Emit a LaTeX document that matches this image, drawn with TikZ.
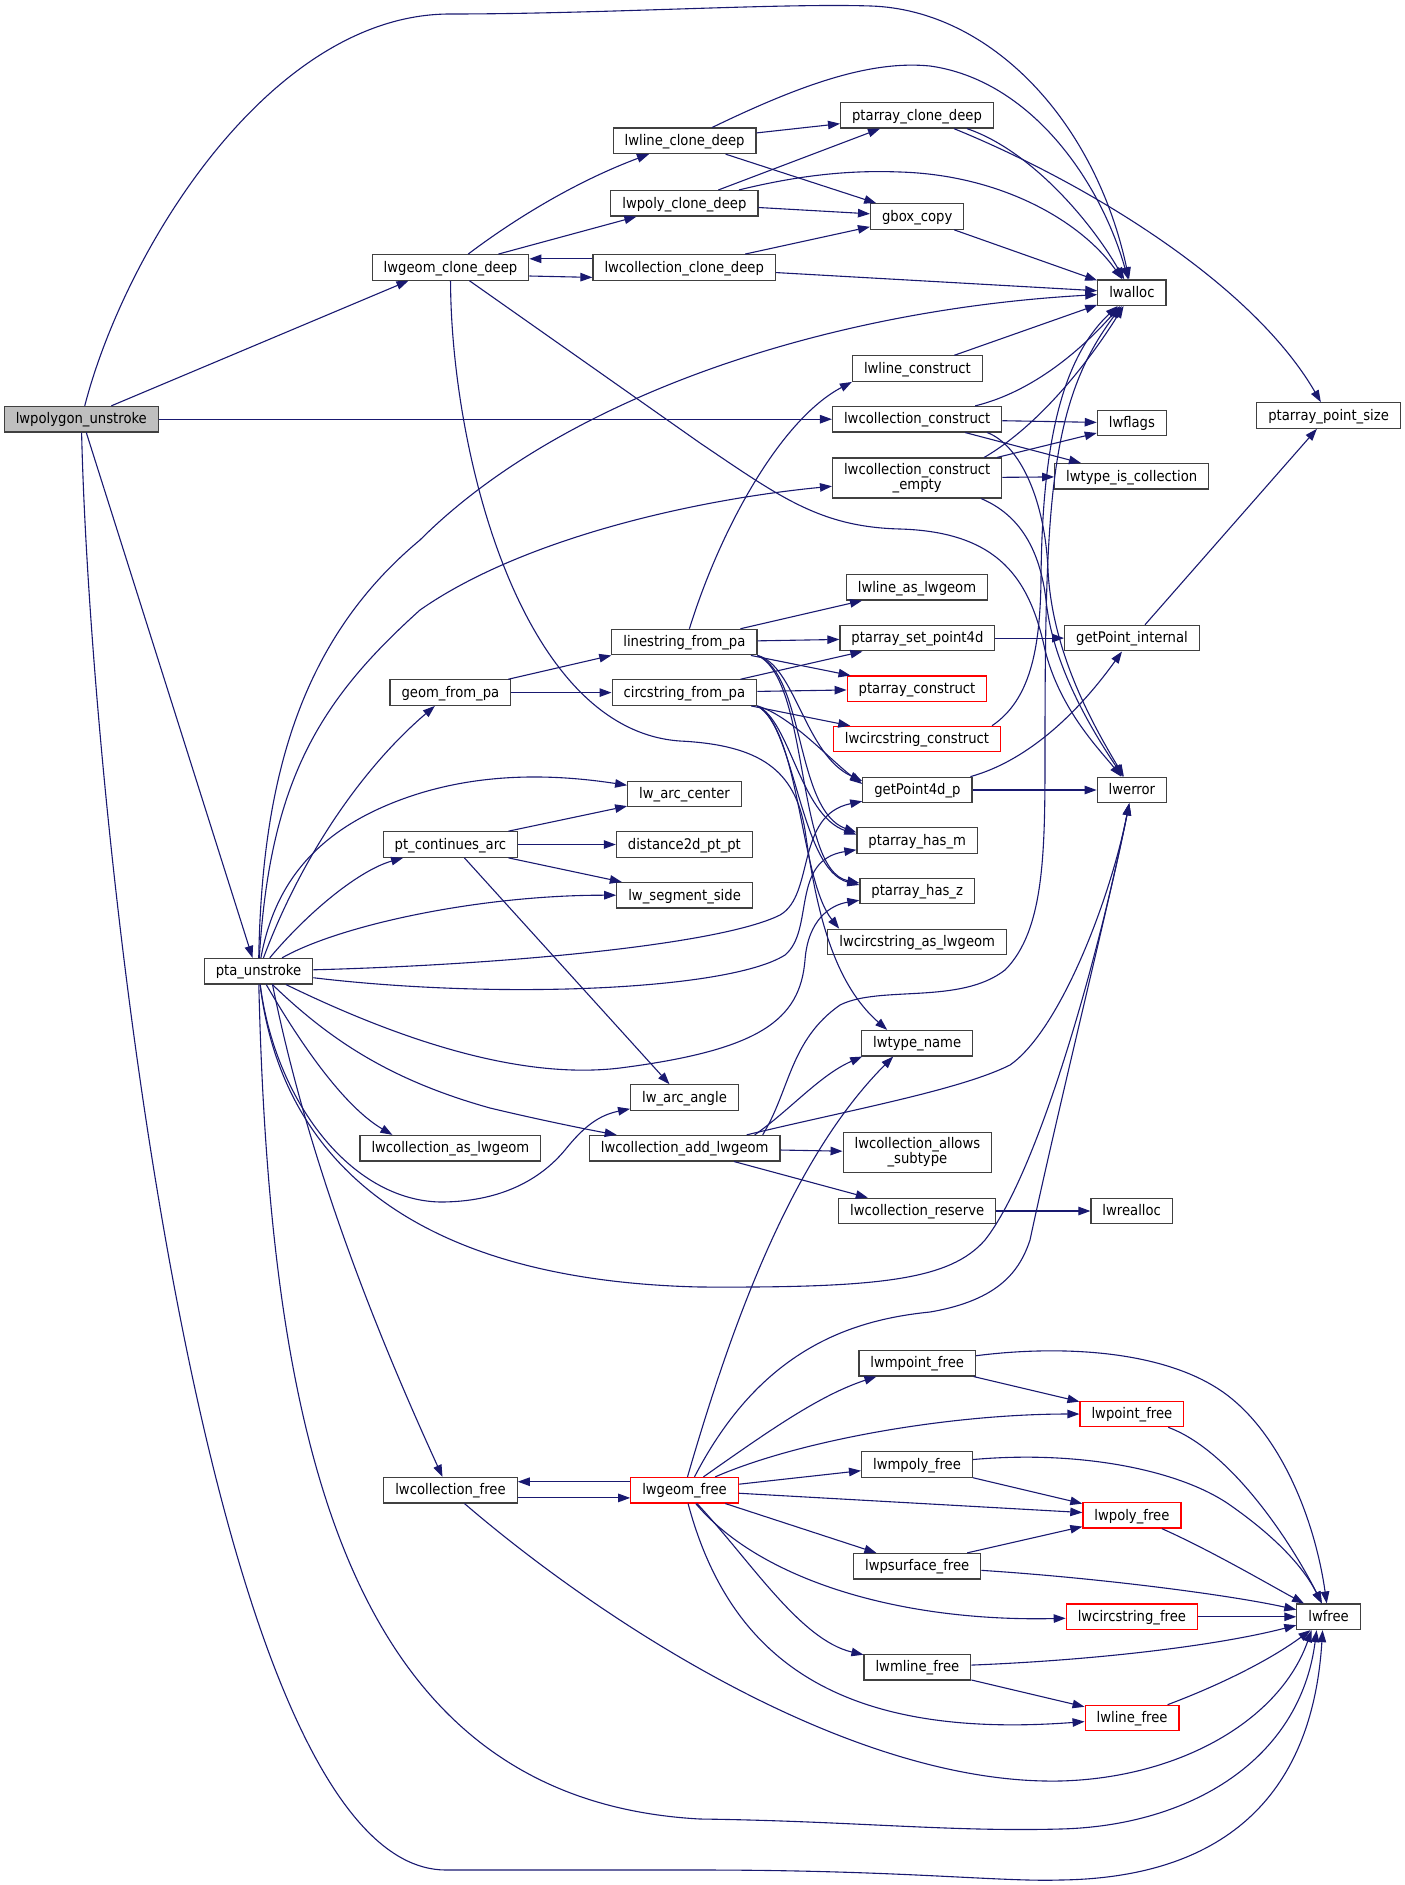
\documentclass[tikz,border=0pt]{standalone}
\usepackage{fontspec}
\setmainfont{DejaVu Sans}[FakeStretch=0.9]
\usepackage{tikz}
\usetikzlibrary{arrows.meta, calc}
\definecolor{callblue}{HTML}{191970}
\definecolor{boxred}{HTML}{FF0000}
\definecolor{rootgray}{HTML}{BFBFBF}

\begin{document}
\begin{tikzpicture}[x=1pt, y=-1pt,
    fn/.style={draw=black!75, line width=1.2pt, rectangle, minimum height=25.5pt,
      inner xsep=11.5pt, inner ysep=0pt, font=\fontsize{14.66}{15}\selectfont,
      text height=12pt, text depth=2.6pt},
    fnred/.style={fn, draw=boxred},
    fnroot/.style={fn, fill=rootgray},
    fntwo/.style={fn, minimum height=40pt, align=center, text height=27pt, text depth=5pt},
    call/.style={draw=callblue, line width=1.1pt, -{Triangle[length=12pt, width=8.5pt]}}]
    \useasboundingbox (0,0) rectangle (1405,1885);

    % functions
    \node[fnroot] (unstroke) at (81.3,419.2) {lwpolygon\_unstroke};
    \node[fn] (ptaun) at (258.5,971.2) {pta\_unstroke};
    \node[fn] (gclone) at (450.5,267.4) {lwgeom\_clone\_deep};
    \node[fn] (gfrom) at (450.4,692.6) {geom\_from\_pa};
    \node[fn] (contarc) at (450.4,844.5) {pt\_continues\_arc};
    \node[fn] (casgeom) at (450.4,1148.2) {lwcollection\_as\_lwgeom};
    \node[fn] (cfree) at (450.5,1490.2) {lwcollection\_free};
    \node[fn] (lclone) at (684.6,140.8) {lwline\_clone\_deep};
    \node[fn] (pclone) at (684.4,203.3) {lwpoly\_clone\_deep};
    \node[fn] (cclone) at (684.2,267.4) {lwcollection\_clone\_deep};
    \node[fn] (lsfrom) at (684.4,642.1) {linestring\_from\_pa};
    \node[fn] (csfrom) at (684.4,692.6) {circstring\_from\_pa};
    \node[fn] (arccenter) at (684.5,794) {lw\_arc\_center};
    \node[fn] (dist) at (684.4,844.5) {distance2d\_pt\_pt};
    \node[fn] (segside) at (684.6,895.3) {lw\_segment\_side};
    \node[fn] (arcangle) at (684.5,1097.6) {lw\_arc\_angle};
    \node[fn] (caddgeom) at (684.7,1148.2) {lwcollection\_add\_lwgeom};
    \node[fnred] (gfree) at (684.5,1490.2) {lwgeom\_free};
    \node[fn] (paclone) at (917,115.3) {ptarray\_clone\_deep};
    \node[fn] (gbox) at (917.2,216.5) {gbox\_copy};
    \node[fn] (lconstr) at (917.4,368.6) {lwline\_construct};
    \node[fn] (cconstr) at (917.2,419.2) {lwcollection\_construct};
    \node[fntwo] (cempty) at (917.2,478) {lwcollection\_construct\\\_empty};
    \node[fn] (lasgeom) at (917,587.3) {lwline\_as\_lwgeom};
    \node[fn] (setpt) at (917.4,638.1) {ptarray\_set\_point4d};
    \node[fnred] (paconstr) at (917,688.8) {ptarray\_construct};
    \node[fnred] (csconstr) at (917,739.1) {lwcircstring\_construct};
    \node[fn] (getpt) at (917.4,790) {getPoint4d\_p};
    \node[fn] (hasm) at (917.2,840.5) {ptarray\_has\_m};
    \node[fn] (hasz) at (917.2,891) {ptarray\_has\_z};
    \node[fn] (csasgeom) at (917.2,942) {lwcircstring\_as\_lwgeom};
    \node[fn] (typename) at (917.2,1043.2) {lwtype\_name};
    \node[fntwo] (allows) at (917.4,1152.6) {lwcollection\_allows\\\_subtype};
    \node[fn] (reserve) at (917.2,1211) {lwcollection\_reserve};
    \node[fn] (mpointfree) at (917.2,1363.2) {lwmpoint\_free};
    \node[fn] (mpolyfree) at (917,1464.5) {lwmpoly\_free};
    \node[fn] (psurffree) at (917.2,1566.2) {lwpsurface\_free};
    \node[fn] (mlinefree) at (917.4,1667.2) {lwmline\_free};
    \node[fn] (alloc) at (1131.9,292.7) {lwalloc};
    \node[fn] (flags) at (1131.9,423) {lwflags};
    \node[fn] (iscoll) at (1131.7,476.3) {lwtype\_is\_collection};
    \node[fn] (ptint) at (1132,638.1) {getPoint\_internal};
    \node[fn] (error) at (1131.9,790) {lwerror};
    \node[fn] (realloc) at (1131.7,1211) {lwrealloc};
    \node[fnred] (pointfree) at (1131.9,1414) {lwpoint\_free};
    \node[fnred] (polyfree) at (1131.9,1515.3) {lwpoly\_free};
    \node[fnred] (csfree) at (1131.9,1616.8) {lwcircstring\_free};
    \node[fnred] (linefree) at (1132.1,1718) {lwline\_free};
    \node[fn] (psize) at (1328.6,415.5) {ptarray\_point\_size};
    \node[fn] (free) at (1328.6,1616.8) {lwfree};

    % lwpolygon_unstroke
    \draw[call] (unstroke) .. controls (125,250) and (270,14) .. (450,14) .. controls (600,14) and (780,3) .. (871,6) .. controls (990,10) and (1095,120) .. (alloc);
    \draw[call] ($(unstroke.north)+(30,0)$) -- ($(gclone.south)+(-42,0)$);
    \draw[call] (unstroke) -- (cconstr);
    \draw[call] ($(unstroke.south)+(5,0)$) -- ($(ptaun.north)+(-6,0)$);
    \draw[call] (unstroke) .. controls (90,800) and (200,1870) .. (446,1870) -- (700,1870) .. controls (900,1870) and (1000,1882) .. (1060,1880) .. controls (1220,1878) and (1312,1800) .. ($(free.south)+(-6,0)$);

    % clone
    \draw[call] (gclone) .. controls (520,215) and (580,180) .. (lclone);
    \draw[call] ($(gclone.north)+(48,0)$) -- ($(pclone.south)+(-48,0)$);
    \draw[call] ($(gclone.east)+(0,8.6)$) -- ($(cclone.west)+(0,10)$);
    \draw[call] (gclone) .. controls (451,450) and (520,730) .. (680,741) .. controls (760,745) and (795,770) .. (805,830) .. controls (815,900) and (830,980) .. ($(typename.north)+(-30,0)$);
    \draw[call] (gclone) -- (700,443) .. controls (780,497) and (820,527) .. (900,529) .. controls (1000,532) and (1030,580) .. (1045,650) .. controls (1060,710) and (1100,750) .. (error);
    \draw[call] ($(cclone.west)+(0,-8.6)$) -- ($(gclone.east)+(0,-8.6)$);
    \draw[call] ($(cclone.north)+(61,0)$) -- (gbox);
    \draw[call] (cclone) -- (alloc);
    \draw[call] (lclone) -- (paclone);
    \draw[call] (lclone) -- (gbox);
    \draw[call] (lclone) .. controls (800,85) and (870,60) .. (930,66) .. controls (1030,80) and (1100,180) .. (alloc);
    \draw[call] ($(pclone.north)+(34,0)$) -- ($(paclone.south)+(-37,0)$);
    \draw[call] (pclone) -- (gbox);
    \draw[call] (pclone) .. controls (800,175) and (850,170) .. (900,172) .. controls (1000,175) and (1080,220) .. (alloc);
    \draw[call] ($(paclone.south)+(50,0)$) .. controls (1030,150) and (1090,220) .. (alloc);
    \draw[call] ($(paclone.south)+(37,0)$) .. controls (1080,180) and (1250,280) .. (psize);
    \draw[call] ($(gbox.south)+(37,0)$) -- (alloc);
    \draw[call] ($(lconstr.north)+(37,0)$) -- (alloc);

    % construct
    \draw[call] ($(cconstr.north)+(58,0)$) .. controls (1040,390) and (1090,340) .. (alloc);
    \draw[call] (cconstr) -- (flags);
    \draw[call] ($(cconstr.south)+(48,0)$) -- (iscoll);
    \draw[call] ($(cconstr.south)+(70,0)$) .. controls (1020,445) and (1045,500) .. (1048,570) .. controls (1052,650) and (1090,720) .. (error);
    \draw[call] ($(cempty.north)+(67,0)$) .. controls (1040,425) and (1090,360) .. (alloc);
    \draw[call] ($(cempty.north)+(80,0)$) -- ($(flags.west)+(0,10)$);
    \draw[call] (cempty) -- (iscoll);
    \draw[call] ($(cempty.south)+(64,0)$) .. controls (1020,515) and (1040,550) .. (1046,600) .. controls (1052,660) and (1085,720) .. (error);

    % pta_unstroke
    \draw[call] (ptaun) .. controls (262,780) and (300,640) .. (420,540) .. controls (560,400) and (820,310) .. (alloc);
    \draw[call] (ptaun) .. controls (270,780) and (320,700) .. (420,610) .. controls (520,540) and (690,500) .. (cempty);
    \draw[call] (ptaun) .. controls (300,860) and (360,770) .. (gfrom);
    \draw[call] (ptaun) .. controls (275,880) and (320,830) .. (400,800) .. controls (480,770) and (560,775) .. (arccenter);
    \draw[call] (ptaun) .. controls (310,910) and (360,870) .. (contarc);
    \draw[call] (ptaun) .. controls (340,925) and (480,895) .. (segside);
    \draw[call] (ptaun) .. controls (500,965) and (720,945) .. (780,915) .. controls (815,895) and (795,815) .. (getpt);
    \draw[call] (ptaun) .. controls (500,1000) and (730,990) .. (785,955) .. controls (815,930) and (790,860) .. (hasm);
    \draw[call] (ptaun) .. controls (400,1040) and (520,1080) .. (620,1068) .. controls (760,1050) and (800,1020) .. (805,960) .. controls (808,920) and (830,905) .. (hasz);
    \draw[call] (ptaun) .. controls (275,1100) and (350,1200) .. (440,1202) .. controls (500,1202) and (540,1180) .. (565,1150) .. controls (585,1125) and (600,1115) .. (arcangle);
    \draw[call] (ptaun) .. controls (310,1060) and (350,1110) .. ($(casgeom.north)+(-58,0)$);
    \draw[call] (ptaun) .. controls (330,1040) and (390,1080) .. (490,1108) .. controls (540,1120) and (590,1130) .. ($(caddgeom.north)+(-68,0)$);
    \draw[call] (ptaun) .. controls (280,1150) and (400,1280) .. (700,1287) .. controls (880,1288) and (950,1280) .. (985,1240) .. controls (1040,1170) and (1100,950) .. (error);
    \draw[call] ($(ptaun.south)+(14,0)$) .. controls (310,1170) and (380,1340) .. ($(cfree.north)+(-8,0)$);
    \draw[call] (ptaun) .. controls (270,1450) and (350,1800) .. (700,1819) .. controls (850,1821) and (950,1832) .. (1060,1829) .. controls (1190,1826) and (1300,1760) .. ($(free.south)+(-12,0)$);

    % from_pa
    \draw[call] (gfrom) -- (lsfrom.south west);
    \draw[call] (gfrom) -- (csfrom);
    \draw[call] ($(contarc.north)+(58,0)$) -- (arccenter);
    \draw[call] (contarc) -- (dist);
    \draw[call] ($(contarc.south)+(58,0)$) -- (segside);
    \draw[call] ($(contarc.south)+(14,0)$) -- ($(arcangle.north)+(-15,0)$);
    \draw[call] ($(lsfrom.north)+(5,0)$) .. controls (720,530) and (780,420) .. (lconstr.south west);
    \draw[call] ($(lsfrom.north)+(56,0)$) -- ($(lasgeom.south)+(-55,0)$);
    \draw[call] (lsfrom) -- (setpt);
    \draw[call] (lsfrom) -- (paconstr);
    \draw[call] (lsfrom.south east) .. controls (795,665) and (805,755) .. ($(getpt.west)+(0,-9)$);
    \draw[call] (lsfrom.south east) .. controls (805,675) and (795,810) .. ($(hasm.west)+(0,-8)$);
    \draw[call] (lsfrom.south east) .. controls (810,680) and (795,870) .. ($(hasz.west)+(0,-8)$);
    \draw[call] ($(csfrom.north)+(56,0)$) -- ($(setpt.south)+(-55,0)$);
    \draw[call] (csfrom) -- (paconstr);
    \draw[call] (csfrom) -- (csconstr);
    \draw[call] (csfrom.south east) .. controls (790,715) and (830,760) .. ($(getpt.west)+(0,-6)$);
    \draw[call] (csfrom.south east) .. controls (790,720) and (800,815) .. ($(hasm.west)+(0,-6)$);
    \draw[call] (csfrom.south east) .. controls (795,725) and (800,870) .. ($(hasz.west)+(0,-6)$);
    \draw[call] (csfrom.south east) .. controls (800,730) and (800,880) .. ($(csasgeom.north)+(-78,0)$);
    \draw[call] ($(csconstr.north)+(75,0)$) .. controls (1030,700) and (1040,650) .. (1041,580) .. controls (1042,450) and (1060,360) .. (alloc);
    \draw[call] ($(getpt.north)+(53,0)$) .. controls (1030,760) and (1080,710) .. ($(ptint.south)+(-10,0)$);
    \draw[call] (getpt) -- (error);
    \draw[call] (setpt) -- (ptint);
    \draw[call] ($(ptint.north)+(13,0)$) -- (psize);

    % add_lwgeom
    \draw[call] ($(caddgeom.north)+(70,0)$) .. controls (790,1110) and (820,1075) .. ($(typename.south)+(-55,0)$);
    \draw[call] ($(caddgeom.north)+(78,0)$) .. controls (790,1090) and (790,1040) .. (840,1005) .. controls (880,985) and (960,1005) .. (1005,970) .. controls (1045,930) and (1045,850) .. (1045,750) .. controls (1045,500) and (1050,400) .. (alloc);
    \draw[call] ($(caddgeom.north)+(62,0)$) .. controls (850,1110) and (960,1090) .. (1010,1065) .. controls (1060,1030) and (1110,900) .. (error);
    \draw[call] (caddgeom) -- (allows);
    \draw[call] (caddgeom) -- (reserve);
    \draw[call] (reserve) -- (realloc);

    % free
    \draw[call] ($(gfree.west)+(0,-8.5)$) -- ($(cfree.east)+(0,-8.5)$);
    \draw[call] ($(cfree.east)+(0,7.7)$) -- ($(gfree.west)+(0,7.7)$);
    \draw[call] ($(cfree.south)+(14,0)$) .. controls (600,1620) and (850,1785) .. (1060,1781) .. controls (1180,1778) and (1280,1720) .. ($(free.south)+(-17,0)$);
    \draw[call] ($(gfree.north)+(3,0)$) .. controls (730,1330) and (790,1160) .. ($(typename.south)+(-24,0)$);
    \draw[call] ($(gfree.north)+(10,0)$) .. controls (760,1350) and (850,1320) .. (930,1312) .. controls (1000,1300) and (1020,1270) .. (1030,1240) .. controls (1060,1100) and (1110,900) .. (error);
    \draw[call] (gfree) .. controls (770,1430) and (820,1395) .. (mpointfree);
    \draw[call] (gfree) .. controls (800,1440) and (950,1414) .. (pointfree);
    \draw[call] (gfree) -- (mpolyfree);
    \draw[call] (gfree) -- (polyfree);
    \draw[call] (gfree) -- (psurffree);
    \draw[call] (gfree) .. controls (760,1580) and (900,1622) .. (csfree);
    \draw[call] (gfree) .. controls (750,1560) and (800,1640) .. (mlinefree);
    \draw[call] (gfree) .. controls (730,1660) and (840,1740) .. (linefree);
    \draw[call] (mpointfree) -- (pointfree);
    \draw[call] (mpointfree) .. controls (1060,1345) and (1160,1350) .. (1220,1390) .. controls (1280,1430) and (1315,1520) .. (free);
    \draw[call] (pointfree) .. controls (1230,1450) and (1290,1540) .. (free);
    \draw[call] (mpolyfree) -- (polyfree);
    \draw[call] (mpolyfree) .. controls (1080,1450) and (1180,1470) .. (1230,1505) .. controls (1280,1540) and (1305,1570) .. (free);
    \draw[call] (polyfree) .. controls (1210,1550) and (1270,1585) .. (free);
    \draw[call] ($(psurffree.north)+(50,0)$) -- (polyfree);
    \draw[call] (psurffree) .. controls (1100,1578) and (1230,1595) .. (free);
    \draw[call] (csfree) -- (free);
    \draw[call] (mlinefree) .. controls (1100,1660) and (1220,1645) .. (free);
    \draw[call] (mlinefree) -- (linefree);
    \draw[call] (linefree) .. controls (1220,1685) and (1270,1660) .. (free);
\end{tikzpicture}
\end{document}
